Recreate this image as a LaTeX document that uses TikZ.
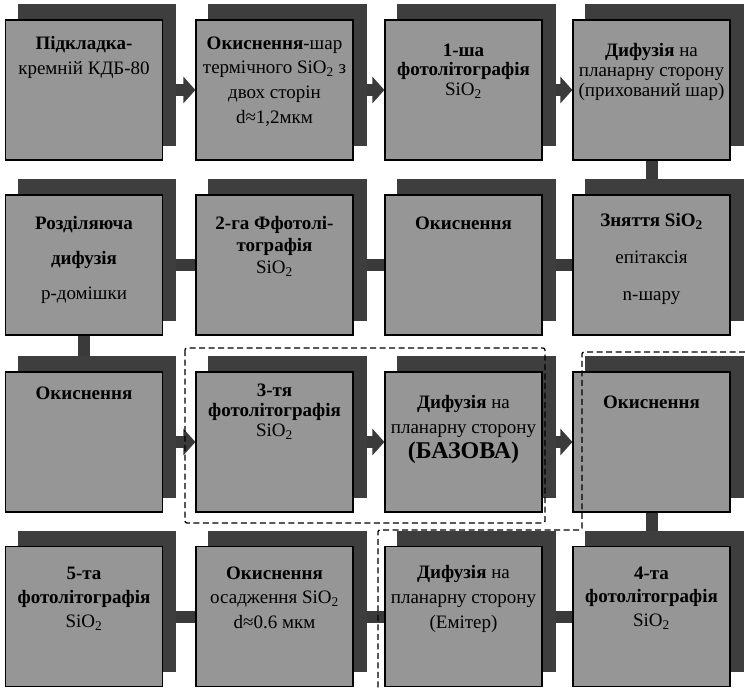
\documentclass[tikz,border=0pt]{standalone}
\usepackage{fontspec}
\setmainfont{Liberation Serif}
\usetikzlibrary{arrows.meta}
\pgfdeclarelayer{arrowlayer}
\pgfdeclarelayer{shadowlayer}
\pgfsetlayers{arrowlayer,shadowlayer,main}
\definecolor{boxc}{RGB}{150,150,150}
\definecolor{shadc}{RGB}{62,62,62}
\definecolor{arrc}{RGB}{58,58,58}
\newcommand{\fl}{\rule{0pt}{16pt}}
\newcommand{\sio}{SiO\textsubscript{2}}
\begin{document}
\begin{tikzpicture}[x=1pt,y=-1pt,
  procbox/.style={draw=black, line width=1.2pt, fill=boxc, minimum width=157pt, minimum height=140pt, inner sep=0pt},
  txt/.style={anchor=north, align=center, inner sep=0pt, text=black},
  flow/.style={draw=arrc, line width=12pt, -{Triangle[width=26pt,length=12pt]}},
  fence/.style={draw=black, line width=1.3pt, dash pattern=on 6pt off 3.5pt, rounded corners=2pt}]
\useasboundingbox (0,0) rectangle (745,688);
% boxes
\node[procbox] (n11) at (84,90) {};
\node[procbox] (n12) at (274.5,90) {};
\node[procbox] (n13) at (463.5,90) {};
\node[procbox] (n14) at (651.5,90) {};
\node[procbox] (n21) at (84,265) {};
\node[procbox] (n22) at (274.5,265) {};
\node[procbox] (n23) at (463.5,265) {};
\node[procbox] (n24) at (651.5,265) {};
\node[procbox] (n31) at (84,442) {};
\node[procbox] (n32) at (274.5,442) {};
\node[procbox] (n33) at (463.5,442) {};
\node[procbox] (n34) at (651.5,442) {};
\node[procbox] (n41) at (84,616.5) {};
\node[procbox] (n42) at (274.5,616.5) {};
\node[procbox] (n43) at (463.5,616.5) {};
\node[procbox] (n44) at (651.5,616.5) {};
% texts
\node[txt, font=\fontsize{19}{25}\selectfont] (t11) at (84,33) {\fl\textbf{Підкладка-}\\кремній КДБ-80};
\node[txt, font=\fontsize{19}{24.7}\selectfont] (t12) at (274.5,33) {\fl\textbf{Окиснення}-шар\\термічного \sio{} з\\двох сторін\\d≈1,2мкм};
\node[txt, font=\fontsize{19}{19.5}\selectfont] (t13) at (463.5,40) {\fl\textbf{1-ша}\\\textbf{фотолітографія}\\\sio};
\node[txt, font=\fontsize{19}{20}\selectfont] (t14) at (651.5,40) {\fl\textbf{Дифузія} на\\планарну сторону\\(прихований шар)};
\node[txt, font=\fontsize{19}{35}\selectfont] (t21) at (84,213) {\fl\textbf{Розділяюча}\\\textbf{дифузія}\\р-домішки};
\node[txt, font=\fontsize{19}{22}\selectfont] (t22) at (274.5,213) {\fl\textbf{2-га Ффотолі-}\\\textbf{тографія}\\\sio};
\node[txt, font=\fontsize{19}{22}\selectfont] (t23) at (463.5,213) {\fl\textbf{Окиснення}};
\node[txt, font=\fontsize{19}{37}\selectfont] (t24) at (651.5,210) {\fl\textbf{Зняття \sio}\\епітаксія\\n-шару};
\node[txt, font=\fontsize{19}{22}\selectfont] (t31) at (84,383) {\fl\textbf{Окиснення}};
\node[txt, font=\fontsize{19}{20}\selectfont] (t32) at (274.5,380) {\fl\textbf{3-тя}\\\textbf{фотолітографія}\\\sio};
\node[txt, font=\fontsize{19}{25}\selectfont] (t33) at (463.5,392) {\fl\textbf{Дифузія} на\\планарну сторону\\{\fontsize{24}{26}\selectfont\textbf{(БАЗОВА)}}};
\node[txt, font=\fontsize{19}{22}\selectfont] (t34) at (651.5,392) {\fl\textbf{Окиснення}};
\node[txt, font=\fontsize{19}{24}\selectfont] (t41) at (84,563) {\fl\textbf{5-та}\\\textbf{фотолітографія}\\\sio};
\node[txt, font=\fontsize{19}{24.5}\selectfont] (t42) at (274.5,563) {\fl\textbf{Окиснення}\\осадження \sio\\d≈0.6 мкм};
\node[txt, font=\fontsize{19}{25}\selectfont] (t43) at (463.5,562) {\fl\textbf{Дифузія} на\\планарну сторону\\(Емітер)};
\node[txt, font=\fontsize{19}{23.5}\selectfont] (t44) at (651.5,563) {\fl\textbf{4-та}\\\textbf{фотолітографія}\\\sio};
% shadows
\begin{pgfonlayer}{shadowlayer}
\foreach \n in {n11,n12,n13,n14,n21,n22,n23,n24,n31,n32,n33,n34,n41,n42,n43,n44}
  \fill[shadc] ([shift={(13,-15)}]\n.south west) rectangle ([shift={(13,-15)}]\n.north east);
\end{pgfonlayer}
% connectors
\begin{pgfonlayer}{arrowlayer}
\fill[white] (0,0) rectangle (745,688);
\draw[flow] (n11.east) -- (n12.west);
\draw[flow] (n12.east) -- (n13.west);
\draw[flow] (n13.east) -- (n14.west);
\draw[flow] (n14.south) -- (n24.north);
\draw[flow] (n24.west) -- (n23.east);
\draw[flow] (n23.west) -- (n22.east);
\draw[flow] (n22.west) -- (n21.east);
\draw[flow] (n21.south) -- (n31.north);
\draw[flow] (n31.east) -- (n32.west);
\draw[flow] (n32.east) -- (n33.west);
\draw[flow] (n33.east) -- (n34.west);
\draw[flow] (n34.south) -- (n44.north);
\draw[flow] (n44.west) -- (n43.east);
\draw[flow] (n43.west) -- (n42.east);
\draw[flow] (n42.west) -- (n41.east);
\end{pgfonlayer}
% dashed groupings
\draw[fence] (185,348) rectangle (545,523);
\draw[fence] (745,352) -- (582,352) -- (582,530) -- (378,530) -- (378,688);
\end{tikzpicture}
\end{document}
